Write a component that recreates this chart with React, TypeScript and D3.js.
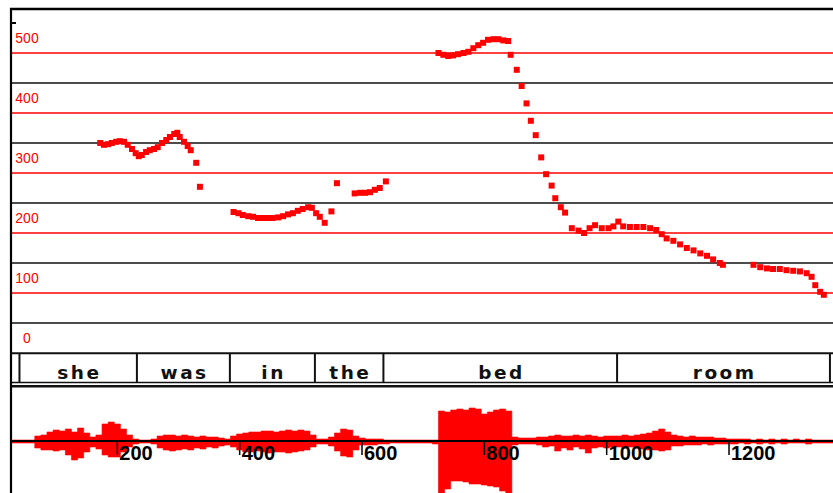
import React from "react";
import * as d3 from "d3";

// ---- data ----
const yGridRed = [100, 200, 300, 400, 500];
const yGridBlack = [50, 150, 250, 350, 450];
const yLabels = [0, 100, 200, 300, 400, 500];
const yTopTick = 550;
const xTicks = [200, 400, 600, 800, 1000, 1200];

const words = ["she", "was", "in", "the", "bed", "room"];
const wordStarts = [40, 232, 384, 523, 635, 1017];
const wordEnds = [232, 384, 523, 635, 1017, 1365];

// pitch track: [time ms, Hz]
const pitchShe: [number, number][] = [
  [172, 350], [178, 347], [185, 348], [191, 350], [198, 352], [204, 353], [211, 352],
  [217, 347], [224, 340], [230, 333], [235, 328], [240, 330], [247, 335], [253, 338],
  [260, 340], [266, 343], [273, 350], [280, 355], [286, 360], [293, 365], [298, 367],
  [302, 360], [309, 352], [315, 345], [320, 338], [329, 317], [335, 277],
];
const pitchIn: [number, number][] = [
  [390, 235], [398, 233], [405, 230], [414, 228], [422, 227], [430, 225], [438, 225],
  [446, 225], [454, 225], [463, 226], [471, 228], [479, 231], [487, 233], [495, 237],
  [503, 240], [512, 243], [518, 242], [525, 233], [531, 227], [539, 217], [550, 236],
  [559, 283],
];
const pitchThe: [number, number][] = [
  [588, 266], [597, 267], [605, 267], [613, 268], [621, 272], [629, 275], [639, 286],
];
const pitchBedroom: [number, number][] = [
  [725, 500], [733, 497], [741, 495], [749, 496], [757, 498], [766, 500], [774, 502],
  [782, 508], [790, 513], [798, 517], [806, 522], [815, 523], [823, 523], [831, 521],
  [839, 520], [843, 497], [853, 472], [861, 445], [869, 416], [876, 387], [884, 363],
  [893, 326], [901, 298], [910, 279], [916, 258], [925, 243], [932, 234], [943, 208],
  [954, 204], [963, 200], [972, 208], [981, 213], [992, 208], [1003, 208], [1011, 211],
  [1019, 219], [1027, 211], [1038, 210], [1049, 210], [1060, 210], [1071, 208],
  [1081, 205], [1090, 198], [1098, 191], [1109, 187], [1120, 181], [1131, 175],
  [1142, 171], [1153, 166], [1164, 162], [1174, 156], [1185, 150], [1190, 147],
];
const pitchRoomEnd: [number, number][] = [
  [1240, 147], [1251, 143], [1262, 141], [1272, 140], [1283, 140], [1294, 138],
  [1305, 137], [1316, 136], [1327, 133], [1335, 127], [1341, 113], [1349, 102], [1355, 97],
];

// waveform envelope: [time ms, upper amplitude, lower amplitude]
const waveEnvelope: [number, number, number][] = [
  [26, 1, 2], [30, 1, 2], [40, 1, 2], [50, 1, 2], [60, 1, 2],
  [70, 5, 7], [80, 6, 9], [90, 9, 9], [100, 11, 10], [110, 10, 9], [120, 12, 14], [130, 9, 19],
  [140, 13, 17], [150, 8, 11], [160, 4, 6], [170, 6, 8], [180, 17, 14], [190, 19, 16],
  [200, 17, 16], [210, 12, 11], [220, 6, 6], [230, 2, 3], [240, 1, 2], [250, 1, 2],
  [260, 2, 3], [270, 5, 7], [280, 6, 9], [290, 6, 10], [300, 5, 9], [310, 6, 8], [320, 5, 9],
  [330, 4, 7], [340, 5, 8], [350, 4, 6], [360, 4, 7], [370, 3, 5], [380, 2, 4],
  [390, 5, 6], [400, 7, 9], [410, 8, 11], [420, 9, 11], [430, 9, 10], [440, 10, 11],
  [450, 10, 12], [460, 9, 11], [470, 10, 11], [480, 11, 12], [490, 10, 11], [500, 11, 10],
  [510, 10, 9], [520, 6, 6], [530, 2, 3], [540, 2, 3],
  [550, 4, 5], [560, 8, 10], [570, 12, 15], [580, 11, 16], [590, 5, 9], [600, 3, 4],
  [610, 2, 4], [620, 2, 4], [630, 2, 3], [640, 1, 3],
  [650, 1, 2], [660, 1, 2], [670, 1, 2], [680, 1, 2], [690, 1, 2], [700, 1, 2], [710, 1, 2],
  [720, 1, 3],
  [730, 30, 52], [740, 29, 48], [750, 31, 40], [760, 32, 40], [770, 31, 41], [780, 33, 43],
  [790, 32, 43], [800, 27, 44], [810, 29, 45], [820, 31, 46], [830, 32, 50], [840, 30, 52],
  [850, 4, 4], [860, 3, 3], [870, 3, 3], [880, 3, 3], [890, 4, 4], [900, 4, 6], [910, 5, 5],
  [920, 6, 10], [930, 5, 7], [940, 5, 9], [950, 6, 6], [960, 5, 8], [970, 6, 12], [980, 5, 7],
  [990, 4, 6], [1000, 5, 7], [1010, 5, 6], [1020, 5, 6], [1030, 6, 7], [1040, 5, 6],
  [1050, 6, 7], [1060, 7, 8], [1070, 8, 9], [1080, 10, 9], [1090, 12, 10], [1100, 9, 9],
  [1110, 6, 5], [1120, 5, 5], [1130, 4, 4], [1140, 5, 4], [1150, 4, 4], [1160, 4, 3],
  [1170, 4, 4], [1180, 3, 3], [1190, 3, 3], [1200, 2, 3],
  [1210, 2, 3], [1220, 2, 2], [1230, 2, 3], [1240, 1, 2], [1250, 2, 3], [1260, 1, 2],
  [1270, 2, 3], [1280, 1, 2], [1290, 2, 3], [1300, 1, 2], [1310, 2, 2], [1320, 1, 2],
  [1330, 2, 3], [1340, 1, 2], [1350, 1, 2], [1360, 1, 2], [1370, 1, 2],
];

// ---- layout ----
const W = 833;
const H = 493;
const FRAME_X = 11;
const FRAME_TOP = 9;
const TIER_TOP = 353.3;
const TIER_BOX_BOTTOM = 382.5;
const TIER_BOTTOM = 386.3;
const RED = "#ff0000";
const FONT = "'Liberation Sans', Arial, sans-serif";
const WORD_FONT = "'DejaVu Sans', Verdana, sans-serif";

export default function App() {
  const x = d3.scaleLinear().domain([0, 1370]).range([-5, 833]);
  const y = d3.scaleLinear().domain([0, 550]).range([353, 23]);
  const yWave = d3.scaleLinear().domain([-60, 40]).range([501, 401]);
  const baseY = yWave(0);

  const waveArea = d3
    .area<[number, number, number]>()
    .x((d) => x(d[0]))
    .y0((d) => yWave(-d[2]))
    .y1((d) => yWave(d[1]))
    .curve(d3.curveStep);

  const allPitch = [...pitchShe, ...pitchIn, ...pitchThe, ...pitchBedroom, ...pitchRoomEnd];
  const sq = 6;

  return (
    <svg
      width={W}
      height={H}
      style={{ position: "absolute", left: 0, top: 0, background: "#fff" }}
    >
      <rect x={0} y={0} width={W} height={H} fill="#fff" />

      {/* grid lines */}
      {yGridBlack.map((v) => (
        <line key={"b" + v} x1={FRAME_X} x2={W} y1={y(v)} y2={y(v)} stroke="#111" strokeWidth={1.7} />
      ))}
      {yGridRed.map((v) => (
        <line key={"r" + v} x1={FRAME_X} x2={W} y1={y(v)} y2={y(v)} stroke={RED} strokeWidth={1.6} />
      ))}

      {/* y labels */}
      {yLabels.map((v) => (
        <text
          key={"yl" + v}
          x={27}
          y={y(v + 25) + 5}
          textAnchor="middle"
          fill={RED}
          fontFamily={FONT}
          fontSize={14}
        >
          {v}
        </text>
      ))}
      <line x1={FRAME_X} x2={16} y1={y(yTopTick)} y2={y(yTopTick)} stroke="#000" strokeWidth={2} />

      {/* pitch points */}
      {allPitch.map((d, i) => (
        <rect key={"p" + i} x={x(d[0]) - sq / 2} y={y(d[1]) - sq / 2} width={sq} height={sq} fill={RED} />
      ))}

      {/* word tier */}
      <line x1={FRAME_X} x2={W} y1={TIER_TOP} y2={TIER_TOP} stroke="#111" strokeWidth={2} />
      <line x1={FRAME_X} x2={W} y1={TIER_BOX_BOTTOM} y2={TIER_BOX_BOTTOM} stroke="#111" strokeWidth={1.5} />
      <line x1={FRAME_X} x2={W} y1={TIER_BOTTOM} y2={TIER_BOTTOM} stroke="#111" strokeWidth={2.5} />
      {words.map((w, i) => (
        <g key={"w" + i}>
          <line
            x1={x(wordStarts[i])}
            x2={x(wordStarts[i])}
            y1={TIER_TOP}
            y2={TIER_BOX_BOTTOM}
            stroke="#111"
            strokeWidth={2}
          />
          <text
            x={(x(wordStarts[i]) + x(wordEnds[i])) / 2 + 1.2}
            y={379.3}
            textAnchor="middle"
            fontFamily={WORD_FONT}
            fontWeight="bold"
            fontSize={18.5}
            letterSpacing={2.5}
            fill="#111"
          >
            {w}
          </text>
        </g>
      ))}
      <line
        x1={x(wordEnds[wordEnds.length - 1])}
        x2={x(wordEnds[wordEnds.length - 1])}
        y1={TIER_TOP}
        y2={TIER_BOX_BOTTOM}
        stroke="#111"
        strokeWidth={2}
      />

      {/* waveform */}
      <path d={waveArea(waveEnvelope) || ""} fill={RED} stroke={RED} strokeWidth={0.6} />
      <line x1={FRAME_X} x2={W} y1={baseY} y2={baseY} stroke="#000" strokeWidth={1.8} />
      {xTicks.map((t) => (
        <g key={"xt" + t}>
          <line x1={x(t)} x2={x(t)} y1={baseY} y2={baseY + 14} stroke="#000" strokeWidth={1.5} />
          <text
            x={x(t) + 2}
            y={460}
            fontFamily={FONT}
            fontWeight="bold"
            fontSize={20}
            fill="#000"
          >
            {t}
          </text>
        </g>
      ))}

      {/* frame */}
      <line x1={FRAME_X} x2={FRAME_X} y1={FRAME_TOP - 1} y2={H} stroke="#000" strokeWidth={2.2} />
      <line x1={FRAME_X - 1} x2={W} y1={FRAME_TOP} y2={FRAME_TOP} stroke="#000" strokeWidth={2.4} />
    </svg>
  );
}
